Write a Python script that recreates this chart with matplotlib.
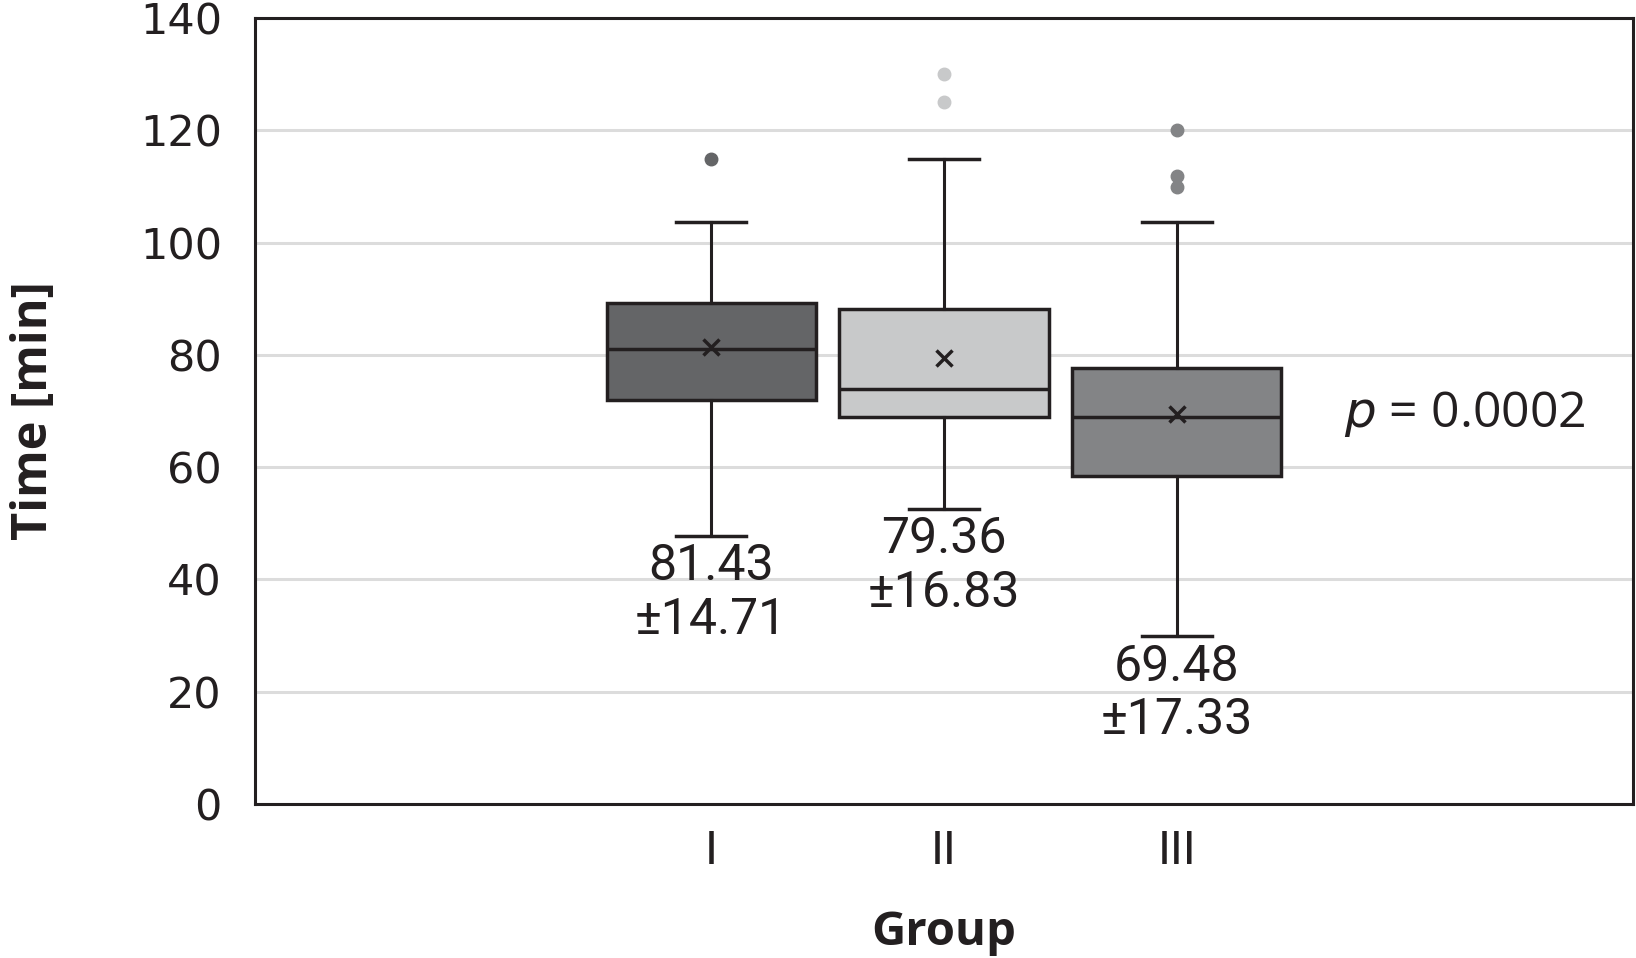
import numpy as np
import matplotlib.pyplot as plt

groups = ['I', 'II', 'III']
q1 = [71.9, 69.0, 58.4]
med = [81.0, 74.0, 69.0]
q3 = [89.2, 88.1, 77.7]
whislo = [47.8, 52.6, 29.9]
whishi = [103.7, 114.9, 103.7]
means = [81.43, 79.36, 69.48]
sds = [14.71, 16.83, 17.33]
outliers = [[114.9], [125.1, 130.1], [109.9, 111.9, 120.1]]
colors = ['#646567', '#c8c9ca', '#838486']

plt.rcParams['font.family'] = ['Roboto', 'DejaVu Sans']

fig = plt.figure(figsize=(16.36, 9.58), dpi=100)
ax = fig.add_axes([0.156, 0.161, 0.842, 0.82])

pos = np.arange(1, len(groups) + 1)
stats = []
for i in range(len(groups)):
    stats.append(dict(q1=q1[i], med=med[i], q3=q3[i], whislo=whislo[i],
                      whishi=whishi[i], mean=means[i], fliers=outliers[i]))

bp = ax.bxp(stats, positions=pos, widths=0.9, patch_artist=True, showmeans=True,
            boxprops=dict(linewidth=2.5, edgecolor='#231f20'),
            medianprops=dict(color='#231f20', linewidth=2.5),
            whiskerprops=dict(color='#231f20', linewidth=2.2),
            capprops=dict(color='#231f20', linewidth=2.5),
            meanprops=dict(marker='x', markeredgecolor='#231f20', markersize=12, markeredgewidth=2.5),
            capwidths=0.3, zorder=3)
for i, b in enumerate(bp['boxes']):
    b.set_facecolor(colors[i])
for i, f in enumerate(bp['fliers']):
    f.set_marker('o')
    f.set_markerfacecolor(colors[i])
    f.set_markeredgecolor(colors[i])
    f.set_markersize(9)

for i in range(len(groups)):
    ax.text(pos[i], whislo[i] - 1.2, f'{means[i]:.2f}\n±{sds[i]:.2f}', ha='center', va='top',
            fontsize=36, color='#231f20', linespacing=1.15)

ax.text(4.24, 69.5, r'$p$ = 0.0002', ha='center', va='center', fontsize=36, color='#231f20',
        family=['Open Sans', 'DejaVu Sans'])

ax.set_xlim(-0.96, 4.96)
ax.set_ylim(0, 140)
ax.set_yticks(np.arange(0, 141, 20))
ax.set_xticks(pos)
ax.set_xticklabels(groups)
ax.tick_params(axis='both', length=0, labelsize=31, colors='#231f20')
ax.tick_params(axis='y', pad=24)
ax.tick_params(axis='x', pad=18)
for lab in ax.get_yticklabels():
    lab.set_family(['DejaVu Sans'])
    lab.set_fontsize(31)
for lab in ax.get_xticklabels():
    lab.set_fontsize(34)
ax.yaxis.grid(True, color='#dcdcdc', linewidth=2.2)
ax.set_axisbelow(True)
for s in ax.spines.values():
    s.set_linewidth(2.2)
    s.set_color('#231f20')

ax.set_ylabel('Time [min]', fontsize=35, fontweight='bold', color='#231f20', labelpad=58,
              family=['Open Sans', 'DejaVu Sans'])
ax.set_xlabel('Group', fontsize=34, fontweight='bold', color='#231f20', labelpad=26,
              family=['Open Sans', 'DejaVu Sans'])

fig.savefig('out.png', dpi=100)
